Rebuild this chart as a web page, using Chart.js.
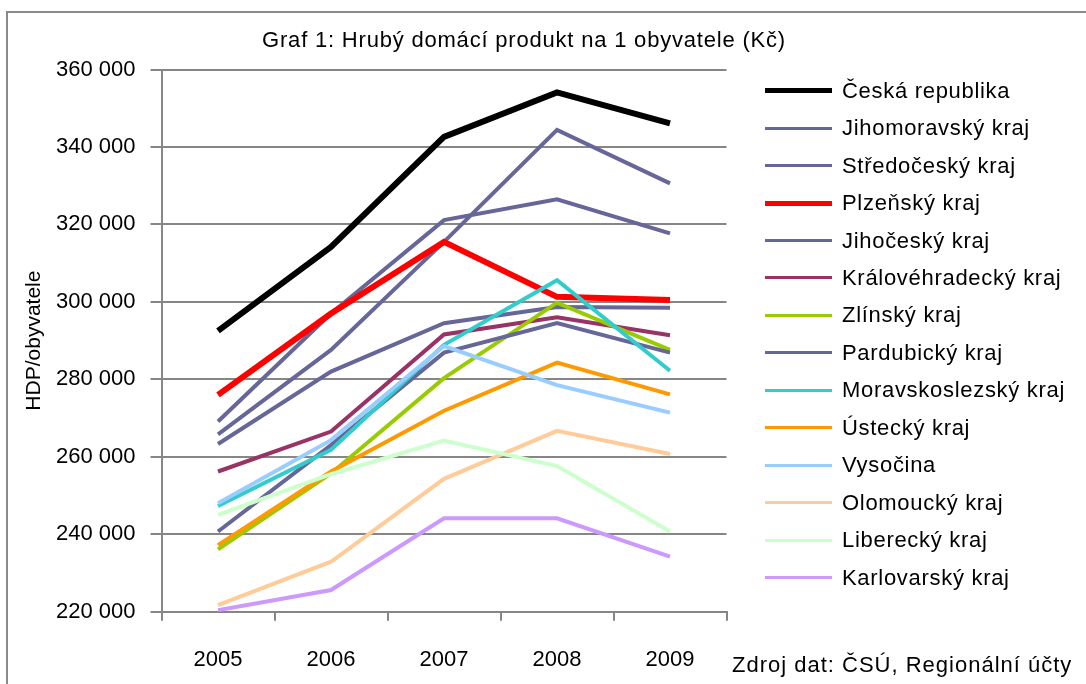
<!DOCTYPE html>
<html>
<head>
<meta charset="utf-8">
<script src="https://cdn.jsdelivr.net/npm/chart.js@4.4.0/dist/chart.umd.min.js"></script>
<style>
  html, body { margin: 0; padding: 0; background: #fff; }
  body { width: 1086px; height: 684px; position: relative; overflow: hidden; font-family: "Liberation Sans", Arial, sans-serif; }
  #frame { position: absolute; left: 6px; top: 11px; width: 1200px; height: 800px; border: 2px solid #8a8a8a; }
  #chart { position: absolute; left: 0; top: 0; }
  #title { position: absolute; left: 0; width: 1048px; top: 27px; text-align: center; font-size: 22px; letter-spacing: 0.8px; color: #000; }
  #source { position: absolute; left: 732px; top: 652px; font-size: 22px; letter-spacing: 1px; color: #000; white-space: nowrap; }
  #legend { position: absolute; left: 765px; top: 72px; margin: 0; padding: 0; list-style: none; }
  #legend li { height: 37.46px; display: flex; align-items: center; font-size: 22px; letter-spacing: 0.7px; white-space: nowrap; }
  #legend .sw { width: 67px; margin-right: 10px; }
</style>
</head>
<body>
<div id="frame"></div>
<canvas id="chart" width="1086" height="684"></canvas>
<div id="title">Graf 1: Hrubý domácí produkt na 1 obyvatele (Kč)</div>
<ul id="legend"></ul>
<div id="source">Zdroj dat: ČSÚ, Regionální účty</div>
<script>
const years = ['2005', '2006', '2007', '2008', '2009'];

const regions = ['Česká republika', 'Jihomoravský kraj', 'Středočeský kraj', 'Plzeňský kraj',
  'Jihočeský kraj', 'Královéhradecký kraj', 'Zlínský kraj', 'Pardubický kraj',
  'Moravskoslezský kraj', 'Ústecký kraj', 'Vysočina', 'Olomoucký kraj',
  'Liberecký kraj', 'Karlovarský kraj'];

const ceskaRepublika   = [292500, 314200, 342600, 354100, 346100];
const jihomoravsky     = [265800, 287600, 315500, 344400, 330600];
const stredocesky      = [269100, 297000, 321100, 326500, 317700];
const plzensky         = [276000, 297000, 315500, 301300, 300500];
const jihocesky        = [263300, 282000, 294500, 298700, 298500];
const kralovehradecky  = [256200, 266500, 291600, 296000, 291400];
const zlinsky          = [236100, 255700, 280300, 299800, 287600];
const pardubicky       = [240700, 263000, 286900, 294500, 286900];
const moravskoslezsky  = [247300, 261800, 288900, 305600, 282200];
const ustecky          = [237200, 256200, 271900, 284300, 276100];
const vysocina         = [248000, 264300, 288600, 278500, 271400];
const olomoucky        = [221700, 232900, 254300, 266700, 260700];
const liberecky        = [245000, 255500, 264200, 257600, 240700];
const karlovarsky      = [220400, 225600, 244100, 244100, 234200];

const seriesValues = [ceskaRepublika, jihomoravsky, stredocesky, plzensky, jihocesky,
  kralovehradecky, zlinsky, pardubicky, moravskoslezsky, ustecky, vysocina,
  olomoucky, liberecky, karlovarsky];

const colors = ['#000000', '#666699', '#666699', '#ff0000', '#666699', '#993366', '#99cc00',
  '#666699', '#33cccc', '#ff9900', '#99ccff', '#ffcc99', '#ccffcc', '#cc99ff'];
const widths = [6, 4, 4, 6, 4, 4, 4, 4, 4, 4, 4, 4, 4, 4];

const yTicks = [220000, 240000, 260000, 280000, 300000, 320000, 340000, 360000];

function fmt(v) {
  return String(v).replace(/\B(?=(\d{3})+(?!\d))/g, ' ');
}

// legend
const legend = document.getElementById('legend');
regions.forEach((name, i) => {
  const li = document.createElement('li');
  li.innerHTML = `<span class="sw" style="height:${widths[i] - 1}px;background:${colors[i]}"></span>${name}`;
  legend.appendChild(li);
});

const gray = '#868686';

new Chart(document.getElementById('chart'), {
  type: 'line',
  data: {
    labels: years,
    datasets: regions.map((name, i) => ({
      label: name,
      data: seriesValues[i],
      borderColor: colors[i],
      backgroundColor: colors[i],
      borderWidth: widths[i],
      pointRadius: 0,
      tension: 0,
      borderJoinStyle: 'miter',
      order: -i
    }))
  },
  options: {
    responsive: false,
    animation: false,
    layout: { padding: { left: 0, right: 359.5, top: 69.5, bottom: 0 } },
    plugins: { legend: { display: false }, tooltip: { enabled: false } },
    scales: {
      x: {
        offset: true,
        grid: { offset: true, drawOnChartArea: false, color: gray, lineWidth: 2, tickLength: 9 },
        border: { color: gray, width: 2 },
        ticks: { color: '#000', font: { family: 'Liberation Sans', size: 22 }, padding: 26, maxRotation: 0 },
        afterFit: s => { s.height = 72.3; }
      },
      y: {
        min: 220000,
        max: 360000,
        afterBuildTicks: s => { s.ticks = yTicks.map(v => ({ value: v })); },
        grid: { color: gray, lineWidth: 2, tickLength: 11 },
        border: { color: gray, width: 2 },
        ticks: { color: '#000', font: { family: 'Liberation Sans', size: 22 }, padding: 15, callback: v => fmt(v) },
        title: { display: true, text: 'HDP/obyvatele', color: '#000', font: { family: 'Liberation Sans', size: 21 }, padding: { top: 22, bottom: 0 } },
        afterFit: s => { s.width = 161.5; }
      }
    }
  }
});
</script>
</body>
</html>
